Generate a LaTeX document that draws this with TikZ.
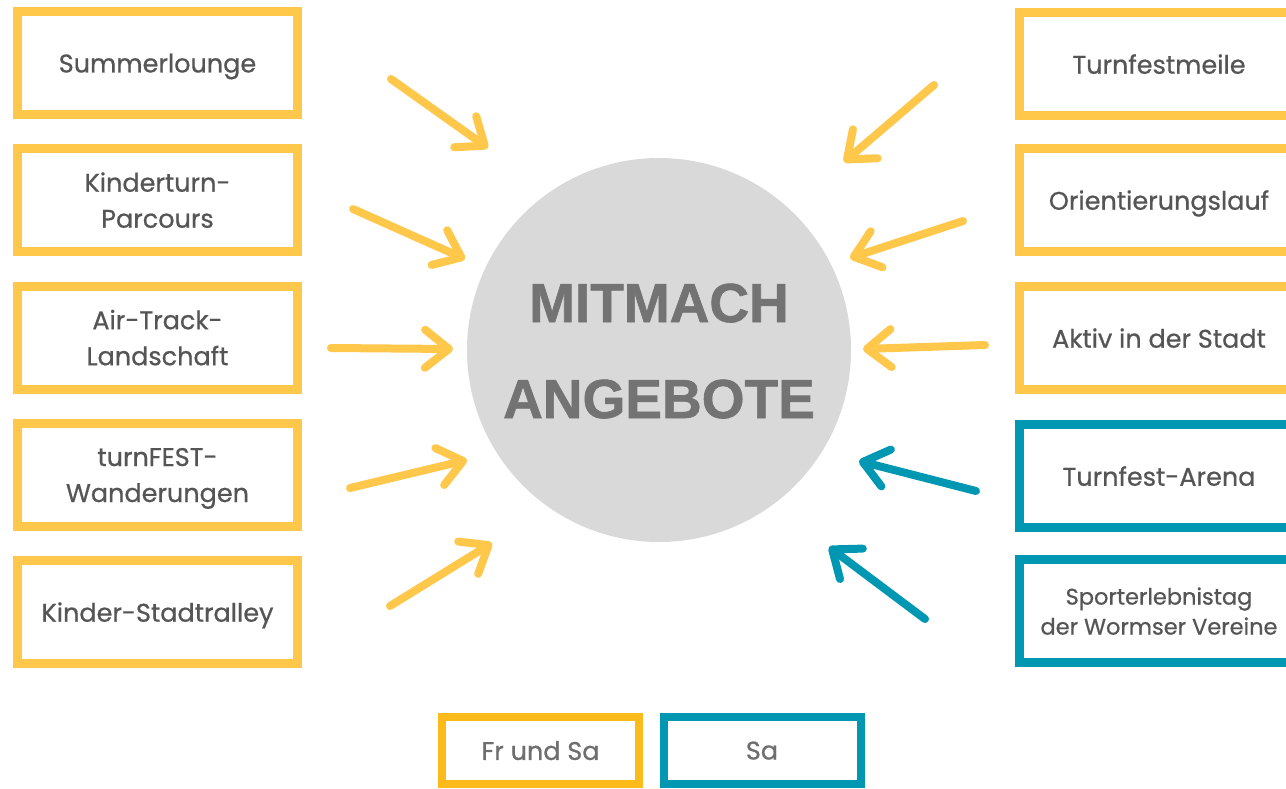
\documentclass[tikz,border=0pt]{standalone}
\usepackage{fontspec}
\setmainfont{Poppins}
\newfontfamily\labelfont{Poppins}[FakeBold=0.7]
\newfontfamily\titlefont{Liberation Sans}[BoldFeatures={FakeBold=1.2}]
\usetikzlibrary{arrows.meta}
\definecolor{ylw}{HTML}{FFC84B}
\definecolor{ylwdark}{HTML}{FDBA1B}
\definecolor{tealc}{HTML}{0097B2}
\definecolor{txt}{HTML}{555555}
\definecolor{legtxt}{HTML}{6E6E6E}
\definecolor{ttl}{HTML}{737373}
\definecolor{circ}{HTML}{D9D9D9}
\tikzset{
  box/.style={draw=ylw, line width=9pt, minimum width=280pt, minimum height=103pt,
    inner sep=0pt, align=center, text=txt, text depth=0pt,
    font=\labelfont\fontsize{25.5}{36}\selectfont},
  tbox/.style={box, draw=tealc},
  legbox/.style={box, minimum width=197pt, minimum height=67pt, line width=8pt, text=legtxt},
  arr/.style={draw=ylw, line width=8pt, line cap=round, line join=round,
    -{Straight Barb[length=24pt,width=38pt,line cap=round,line join=round]}},
  tarr/.style={arr, draw=tealc},
  ttltext/.style={anchor=base, text=ttl, inner sep=0pt, font=\titlefont\bfseries\fontsize{55}{60}\selectfont}
}
\begin{document}
\begin{tikzpicture}[x=1pt,y=-1pt]
\clip (0,0) rectangle (1286,788);
\fill[white] (0,0) rectangle (1286,788);
% centre
\node (c) [circle, fill=circ, minimum size=384pt, inner sep=0pt] at (659,350) {};
\node (t1) [ttltext] at (659,322) {MITMACH};
\node (t2) [ttltext] at (659,418) {ANGEBOTE};
% left boxes
\node (l1) [box] at (157.5,63) {Summerlounge};
\node (l2) [box] at (157.5,200) {Kinderturn-\\Parcours};
\node (l3) [box] at (157.5,337.5) {Air-Track-\\Landschaft};
\node (l4) [box] at (157.5,475) {turnFEST-\\Wanderungen};
\node (l5) [box] at (157.5,612) {Kinder-Stadtralley};
% right boxes
\node (r1) [box] at (1159,64) {Turnfestmeile};
\node (r2) [box] at (1159,200) {Orientierungslauf};
\node (r3) [box] at (1159,338) {Aktiv in der Stadt};
\node (r4) [tbox] at (1159,476) {Turnfest-Arena};
\node (r5) [tbox, font=\labelfont\fontsize{22.5}{30}\selectfont] at (1159,611) {Sporterlebnistag\\der Wormser Vereine};
% legend
\node (g1) [legbox, draw=ylwdark] at (540.5,750.5) {Fr und Sa};
\node (g2) [legbox, draw=tealc] at (762,750.5) {Sa};
% arrow coordinates
\coordinate (a1s) at (391,79);  \coordinate (a1e) at (488,148);
\coordinate (a2s) at (353,209); \coordinate (a2e) at (465,259);
\coordinate (a3s) at (331,348); \coordinate (a3e) at (453,349);
\coordinate (a4s) at (350,488); \coordinate (a4e) at (467,460);
\coordinate (a5s) at (390,606); \coordinate (a5e) at (492,543);
\coordinate (a6s) at (934,85);  \coordinate (a6e) at (844,162);
\coordinate (a7s) at (963,221); \coordinate (a7e) at (850,258);
\coordinate (a8s) at (985,345); \coordinate (a8e) at (863,349);
\coordinate (a9s) at (976,491); \coordinate (a9e) at (859,461);
\coordinate (a10s) at (925,619); \coordinate (a10e) at (829,547);
\draw[arr] (a1s) -- (a1e);
\draw[arr] (a2s) -- (a2e);
\draw[arr] (a3s) -- (a3e);
\draw[arr] (a4s) -- (a4e);
\draw[arr] (a5s) -- (a5e);
\draw[arr] (a6s) -- (a6e);
\draw[arr] (a7s) -- (a7e);
\draw[arr] (a8s) -- (a8e);
\draw[tarr] (a9s) -- (a9e);
\draw[tarr] (a10s) -- (a10e);
\end{tikzpicture}
\end{document}
